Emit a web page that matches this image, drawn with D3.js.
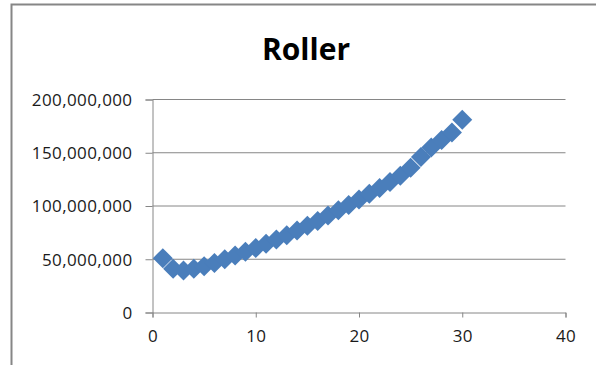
<!DOCTYPE html>
<html>
<head>
<meta charset="utf-8">
<script src="https://cdn.jsdelivr.net/npm/d3@7"></script>
<style>
  html, body { margin: 0; padding: 0; background: #fff; }
  svg { display: block; }
</style>
</head>
<body>
<svg id="chart" width="596" height="365"></svg>
<script>
const chartTitle = "Roller";
const xValues = [1,2,3,4,5,6,7,8,9,10,11,12,13,14,15,16,17,18,19,20,21,22,23,24,25,26,27,28,29,30];
const yValues = [51e6,41e6,39.5e6,41e6,43.5e6,46.5e6,50e6,53.5e6,57e6,60.5e6,64.5e6,68.5e6,72.5e6,77e6,81.5e6,86e6,91e6,96e6,101e6,106e6,111.5e6,117e6,122.5e6,128.5e6,136e6,146e6,155e6,162e6,169e6,181e6];
const xTicks = [0,10,20,30,40];
const yTicks = [0,50e6,100e6,150e6,200e6];

const svg = d3.select("#chart");
const font = "'Open Sans', sans-serif";
const gridColor = "#868686";
const markerColor = "#4A7EBB";

const x = d3.scaleLinear().domain([0, 40]).range([152.5, 565.5]);
const y = d3.scaleLinear().domain([0, 200e6]).range([312.5, 99.5]);

// chart frame (cut off at right/bottom)
svg.append("rect")
  .attr("x", 11.5).attr("y", 4.5)
  .attr("width", 640).attr("height", 400)
  .attr("fill", "none").attr("stroke", gridColor).attr("stroke-width", 2);

// title
svg.append("text")
  .attr("x", 306).attr("y", 60)
  .attr("text-anchor", "middle")
  .style("font-family", font).style("font-weight", "bold").style("font-size", "30px")
  .attr("fill", "#000")
  .text(chartTitle);

// gridlines
svg.append("g").selectAll("line").data(yTicks.filter(d => d > 0)).join("line")
  .attr("x1", x(0)).attr("x2", x(40))
  .attr("y1", d => y(d)).attr("y2", d => y(d))
  .attr("stroke", gridColor).attr("stroke-width", 1);

// y axis
const yAxis = svg.append("g").attr("transform", `translate(${x(0)},0)`)
  .call(d3.axisLeft(y).tickValues(yTicks).tickSize(7).tickPadding(13)
    .tickFormat(d3.format(",")));
// x axis
const xAxis = svg.append("g").attr("transform", `translate(0,${y(0)})`)
  .call(d3.axisBottom(x).tickValues(xTicks).tickSize(5).tickPadding(12)
    .tickFormat(d3.format("d")));

[yAxis, xAxis].forEach(g => {
  g.select(".domain").attr("stroke", gridColor).attr("stroke-width", 1);
  g.selectAll(".tick line").attr("stroke", gridColor);
  g.selectAll(".tick text").attr("fill", "#1a1a1a")
    .style("font-family", font).style("font-size", "17px")
    .style("letter-spacing", "0.4px");
});
yAxis.selectAll(".tick text").attr("dy", "0.35em");

// markers (diamonds)
const diamond = d3.symbol().type(d3.symbolSquare).size(200);
svg.append("g").selectAll("path").data(xValues.map((v, i) => [v, yValues[i]])).join("path")
  .attr("d", diamond)
  .attr("transform", d => `translate(${x(d[0])},${y(d[1])}) rotate(45)`)
  .attr("fill", markerColor);
</script>
</body>
</html>
